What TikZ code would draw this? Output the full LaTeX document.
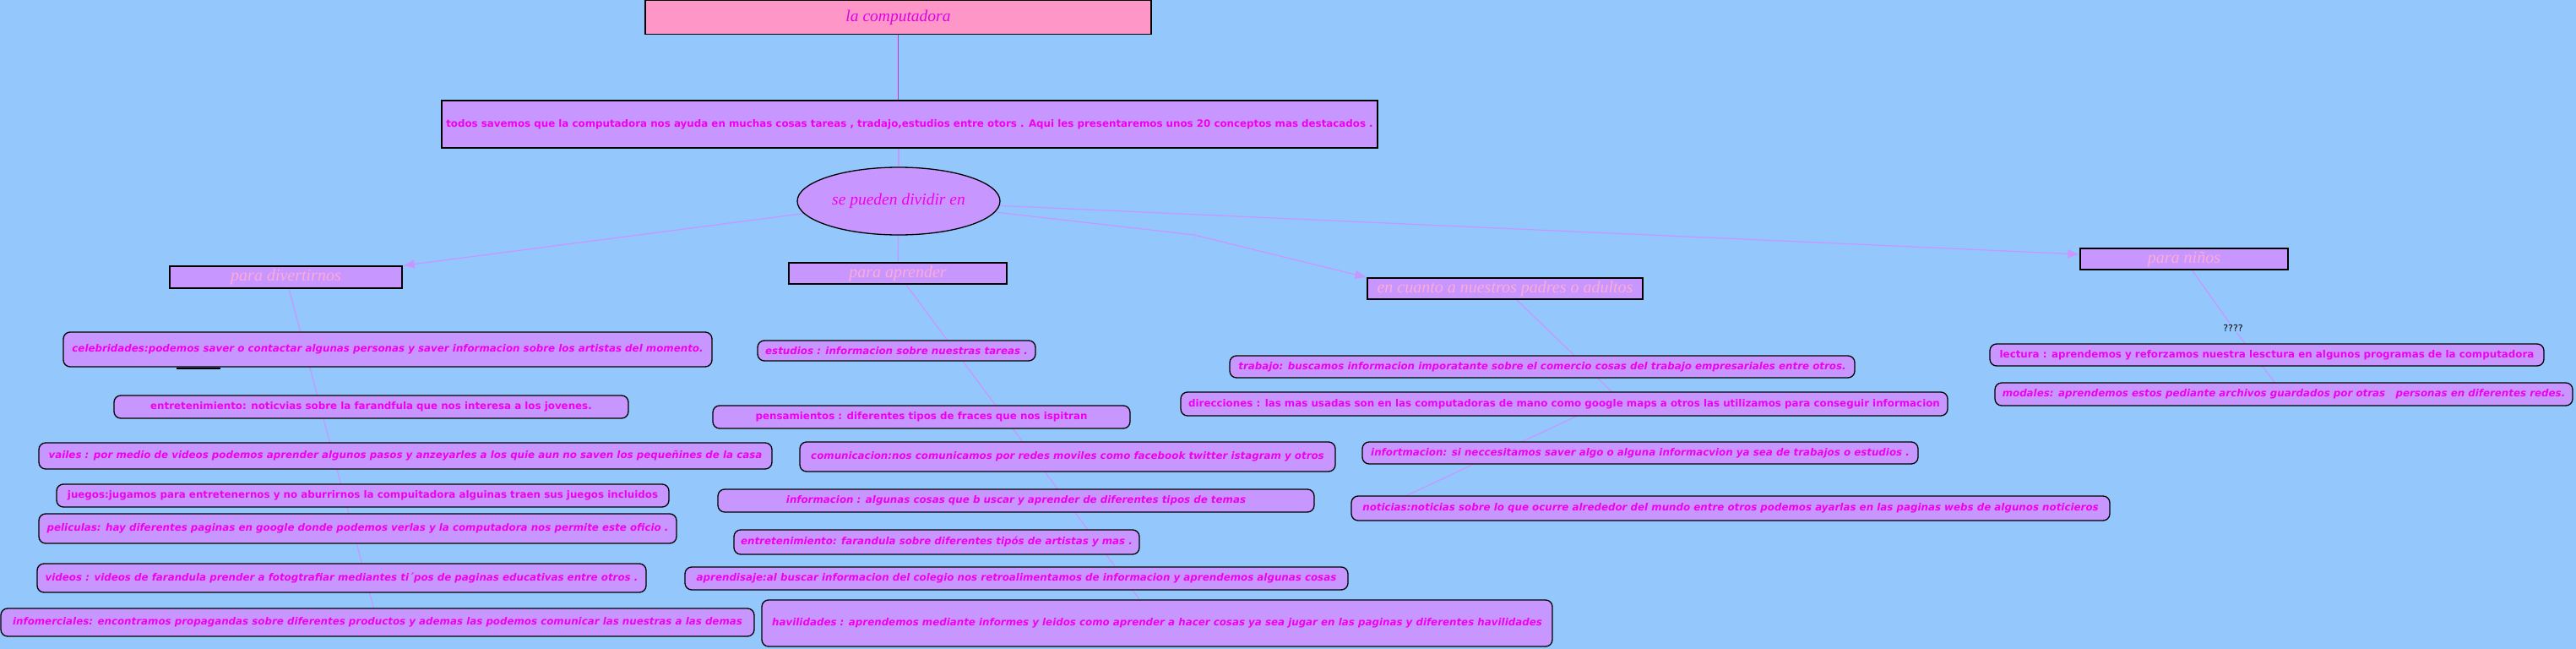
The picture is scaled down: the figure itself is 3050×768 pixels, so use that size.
\documentclass[tikz,border=0pt]{standalone}
\usepackage{fontspec}
\setmainfont{Liberation Serif}
\newfontfamily\dvs{DejaVu Sans}[BoldFont={DejaVu Sans Bold},ItalicFont={DejaVu Sans Oblique},BoldItalicFont={DejaVu Sans Bold Oblique}]
\usetikzlibrary{shapes.geometric,arrows.meta,calc}
\definecolor{bgblue}{RGB}{148,200,252}
\definecolor{lav}{RGB}{200,150,255}
\definecolor{pinkfill}{RGB}{255,150,200}
\definecolor{mag}{RGB}{240,0,240}
\definecolor{titlemag}{RGB}{225,0,225}
\definecolor{pinktxt}{RGB}{255,170,212}
\definecolor{linkcol}{RGB}{200,150,255}
\definecolor{topline}{RGB}{200,50,200}
\definecolor{tickcol}{RGB}{170,180,250}
\pgfdeclarelayer{bg}\pgfdeclarelayer{lines}\pgfsetlayers{bg,lines,main}
\tikzset{
 leaf/.style={draw=black, line width=1.3pt, fill=lav, rounded corners=8pt, inner sep=0pt, text=mag, font=\dvs\bfseries\fontsize{11.85}{13}\selectfont},
 leafit/.style={leaf, font=\dvs\bfseries\itshape\fontsize{11.85}{13}\selectfont},
 cat/.style={draw=black, line width=1.4pt, fill=lav, inner sep=0pt, text=pinktxt, font=\itshape\fontsize{20}{24}\selectfont},
 conn/.style={draw=linkcol, line width=1.2pt},
 arr/.style={conn, -{Latex[length=14pt,width=11pt]}},
}
\begin{document}
\begin{tikzpicture}[x=1pt,y=-1pt]
\path[use as bounding box] (0,0) rectangle (3050,768);
\begin{pgfonlayer}{bg}
\fill[bgblue] (0,0) rectangle (3050,768);
\end{pgfonlayer}
% top
\node[draw=black, line width=1.3pt, fill=pinkfill, inner sep=0pt, minimum width=599pt, minimum height=40pt, text=titlemag, font=\itshape\fontsize{19.5}{23}\selectfont] (title) at (1063.5,20.5) {la computadora};
\node[draw=black, line width=1.4pt, fill=lav, inner sep=0pt, minimum width=1108pt, minimum height=56pt, text=mag, font=\dvs\bfseries\fontsize{11.85}{14}\selectfont] (intro) at (1077,147) {todos savemos que la computadora nos ayuda en muchas cosas tareas , tradajo,estudios entre otors . Aqui les presentaremos unos 20 conceptos mas destacados .};
\node[ellipse, draw=black, line width=1.3pt, fill=lav, inner sep=0pt, minimum width=240pt, minimum height=80pt, text=mag, font=\itshape\fontsize{19.5}{23}\selectfont] (ell) at (1064,238) {se pueden dividir en};
% categories
\node[cat, minimum width=275pt, minimum height=26pt] (div) at (338.5,328) {para divertirnos};
\node[cat, minimum width=258pt, minimum height=25pt] (apr) at (1063,323.5) {para aprender};
\node[cat, minimum width=326pt, minimum height=25pt] (encu) at (1782,341.5) {en cuanto a nuestros padres o adultos};
\node[cat, minimum width=246pt, minimum height=25pt] (nin) at (2586,306.5) {para niños};
% para divertirnos
\node[leafit, minimum width=768pt, minimum height=41pt] (celeb) at (459,413.5) {celebridades:podemos saver o contactar algunas personas y saver informacion sobre los artistas del momento.};
\node[leaf, minimum width=609pt, minimum height=27pt] (entre1) at (439.5,481.5) {entretenimiento: noticvias sobre la farandfula que nos interesa a los jovenes.};
\node[leafit, minimum width=868pt, minimum height=31pt] (vailes) at (480,539.5) {vailes : por medio de videos podemos aprender algunos pasos y anzeyarles a los quie aun no saven los pequeñines de la casa};
\node[leaf, minimum width=725pt, minimum height=27pt] (juegos) at (429.5,586.5) {juegos:jugamos para entretenernos y no aburrirnos la compuitadora alguinas traen sus juegos incluidos};
\node[leafit, minimum width=755pt, minimum height=35pt] (pelis) at (423.5,625.5) {peliculas: hay diferentes paginas en google donde podemos verlas y la computadora nos permite este oficio .};
\node[leafit, minimum width=721pt, minimum height=34pt] (videos) at (404.5,684) {videos : videos de farandula prender a fotogtrafiar mediantes ti´pos de paginas educativas entre otros .};
\node[leafit, minimum width=892pt, minimum height=33pt] (infom) at (447,736.5) {infomerciales: encontramos propagandas sobre diferentes productos y ademas las podemos comunicar las nuestras a las demas};
% para aprender
\node[leafit, minimum width=329pt, minimum height=24pt] (estud) at (1061.5,415) {estudios : informacion sobre nuestras tareas .};
\node[leaf, minimum width=494pt, minimum height=27pt] (pensa) at (1091,493.5) {pensamientos : diferentes tipos de fraces que nos ispitran};
\node[leafit, minimum width=634pt, minimum height=35pt] (comun) at (1264,540.5) {comunicacion:nos comunicamos por redes moviles como facebook twitter istagram y otros};
\node[leafit, minimum width=706pt, minimum height=27pt] (inform) at (1203,592.5) {informacion : algunas cosas que b uscar y aprender de diferentes tipos de temas};
\node[leafit, minimum width=480pt, minimum height=29pt] (entre2) at (1109,641.5) {entretenimiento: farandula sobre diferentes tipós de artistas y mas .};
\node[leafit, minimum width=785pt, minimum height=27pt] (aprend) at (1203.5,684.5) {aprendisaje:al buscar informacion del colegio nos retroalimentamos de informacion y aprendemos algunas cosas};
\node[leafit, minimum width=936pt, minimum height=55pt] (havil) at (1370,737.5) {havilidades : aprendemos mediante informes y leidos como aprender a hacer cosas ya sea jugar en las paginas y diferentes havilidades};
% padres o adultos
\node[leafit, minimum width=740pt, minimum height=26pt] (trab) at (1826,434) {trabajo: buscamos informacion imporatante sobre el comercio cosas del trabajo empresariales entre otros.};
\node[leaf, minimum width=908pt, minimum height=28pt] (direc) at (1852,478) {direcciones : las mas usadas son en las computadoras de mano como google maps a otros las utilizamos para conseguir informacion};
\node[leafit, minimum width=658pt, minimum height=26pt] (infort) at (1942,536) {infortmacion: si neccesitamos saver algo o alguna informacvion ya sea de trabajos o estudios .};
\node[leafit, minimum width=898pt, minimum height=29pt] (notic) at (2049,601.5) {noticias:noticias sobre lo que ocurre alrededor del mundo entre otros podemos ayarlas en las paginas webs de algunos noticieros};
% para ninos
\node[text=black, inner sep=1pt, font=\dvs\fontsize{11}{13}\selectfont] (q) at (2644,388) {????};
\node[leaf, minimum width=656pt, minimum height=26pt] (lect) at (2684,420) {lectura : aprendemos y reforzamos nuestra lesctura en algunos programas de la computadora};
\node[leafit, minimum width=684pt, minimum height=27pt] (modal) at (2704,466.5) {modales: aprendemos estos pediante archivos guardados por otras\ \ \ personas en diferentes redes.};
% link points
\coordinate (l2) at (1414,278);
\coordinate (l3) at (1915,470);
\coordinate (nt) at ($(notic.north west)+(66,0)$);
\begin{pgfonlayer}{lines}
\draw[topline, line width=1.2pt] (title.south) -- (title.south |- intro.north);
\draw[conn] (intro.south -| ell.north) -- (ell.north);
\draw[arr] (ell) -- (div.north east);
\draw[conn] (ell) -- (apr);
\draw[conn] (ell) -- (l2);
\draw[arr] (l2) -- (encu.north west);
\draw[tickcol, line width=1pt] ($(l2)+(0,-7)$) -- ($(l2)+(0,7)$);
\draw[arr] (ell) -- (nin);
\draw[conn] (div) -- (infom);
\draw[conn] (apr) -- (havil);
\draw[conn] (encu) -- (l3);
\draw[conn] (l3) -- (nt);
\draw[conn] (nin) -- (q);
\draw[conn] (q) -- (modal);
\end{pgfonlayer}
\draw[black, line width=2pt] ($(celeb.south west)+(135,1.5)$) -- ($(celeb.south west)+(187,1.5)$);
\end{tikzpicture}
\end{document}
